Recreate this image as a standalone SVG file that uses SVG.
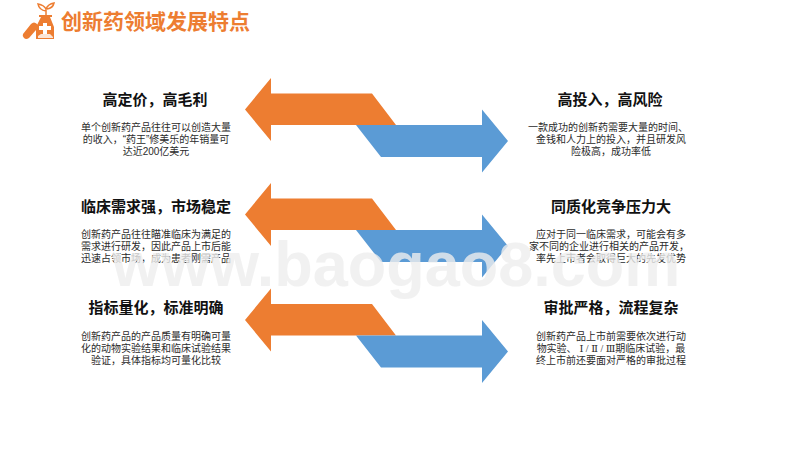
<svg xmlns="http://www.w3.org/2000/svg" width="800" height="450" viewBox="0 0 800 450">
<style>
text{font-family:"Liberation Sans","Noto Sans CJK SC",sans-serif;text-anchor:middle}
.h{font-size:15px;font-weight:bold;fill:#111}
.b{font-size:10px;fill:#2b2b2b}
.t{font-size:21px;font-weight:bold;fill:#ED7D31;text-anchor:start}
.wm{font-size:63px;font-weight:bold;fill:#eeeeee;fill-opacity:.8;text-anchor:start}
.o{fill:#ED7D31}.bl{fill:#5B9BD5}
.r{font-family:"Liberation Serif","DejaVu Serif",serif}
</style>
<defs>
<path id="oa" class="o" d="M245 109.500L271 78V93.500H372L396 125H271V141Z"/>
<path id="ba" class="bl" d="M356 125H482V109.500L508 141L482 172.500V157H381Z"/>
</defs>
<rect width="800" height="450" fill="#fff"/>
<g id="header">
<path class="o" d="M39 15H52V17H50L54 27V39H36V27L41 17H39Z"/>
<path d="M43 23H47V26H51V30H47V34H43V30H39V26H43Z" fill="#fff"/>
<path d="M38 36L41 34H50L53 37V38H38Z" fill="#fff" opacity=".8"/>
<path class="o" d="M23 34L31 24Q34 21 37 24Q39 27 36 30L29 38Q26 40 24 38Q22 36 23 34Z"/>
<path d="M46 15V9Q44 5 38 4Q39 10 46 11M46 9Q48 4 54 3Q53 8 47 9" fill="none" stroke="#ED7D31" stroke-width="1.500"/>
<text class="t" x="61" y="29">创新药领域发展特点</text>
</g>
<g id="connectors">
<use href="#oa"/><use href="#ba"/>
<use href="#oa" y="105"/><use href="#ba" y="105"/>
<use href="#oa" y="210.500"/><use href="#ba" y="210.500"/>
</g>
<g id="n1"><text class="h" x="155" y="105">高定价，高毛利</text><text class="b" x="156" y="131">单个创新药产品往往可以创造大量</text><text class="b" x="156" y="143">的收入，“药王”修美乐的年销量可</text><text class="b" x="156" y="155">达近200亿美元</text></g>
<g id="n2"><text class="h" x="156" y="212">临床需求强，市场稳定</text><text class="b" x="156" y="238">创新药产品往往瞄准临床为满足的</text><text class="b" x="156" y="250">需求进行研发，因此产品上市后能</text><text class="b" x="156" y="262">迅速占领市场，成为患者刚需产品</text></g>
<g id="n3"><text class="h" x="156" y="313">指标量化，标准明确</text><text class="b" x="156" y="340">创新药产品的产品质量有明确可量</text><text class="b" x="156" y="352">化的动物实验结果和临床试验结果</text><text class="b" x="156" y="364">验证，具体指标均可量化比较</text></g>
<g id="n4"><text class="h" x="610" y="105">高投入，高风险</text><text class="b" x="608" y="131">一款成功的创新药需要大量的时间、</text><text class="b" x="611" y="143">金钱和人力上的投入，并且研发风</text><text class="b" x="611" y="155">险极高，成功率低</text></g>
<g id="n5"><text class="h" x="611" y="212">同质化竞争压力大</text><text class="b" x="611" y="238">应对于同一临床需求，可能会有多</text><text class="b" x="609" y="250">家不同的企业进行相关的产品开发，</text><text class="b" x="611" y="262">率先上市者会取得巨大的先发优势</text></g>
<g id="n6"><text class="h" x="611" y="313">审批严格，流程复杂</text><text class="b" x="611" y="340">创新药产品上市前需要依次进行动</text><text class="b" x="611" y="352">物实验、 <tspan class="r">Ⅰ / Ⅱ / Ⅲ</tspan>期临床试验，最</text><text class="b" x="611" y="364">终上市前还要面对严格的审批过程</text></g>
<text class="wm" x="112" y="286">www.baogao8.com</text>
</svg>
